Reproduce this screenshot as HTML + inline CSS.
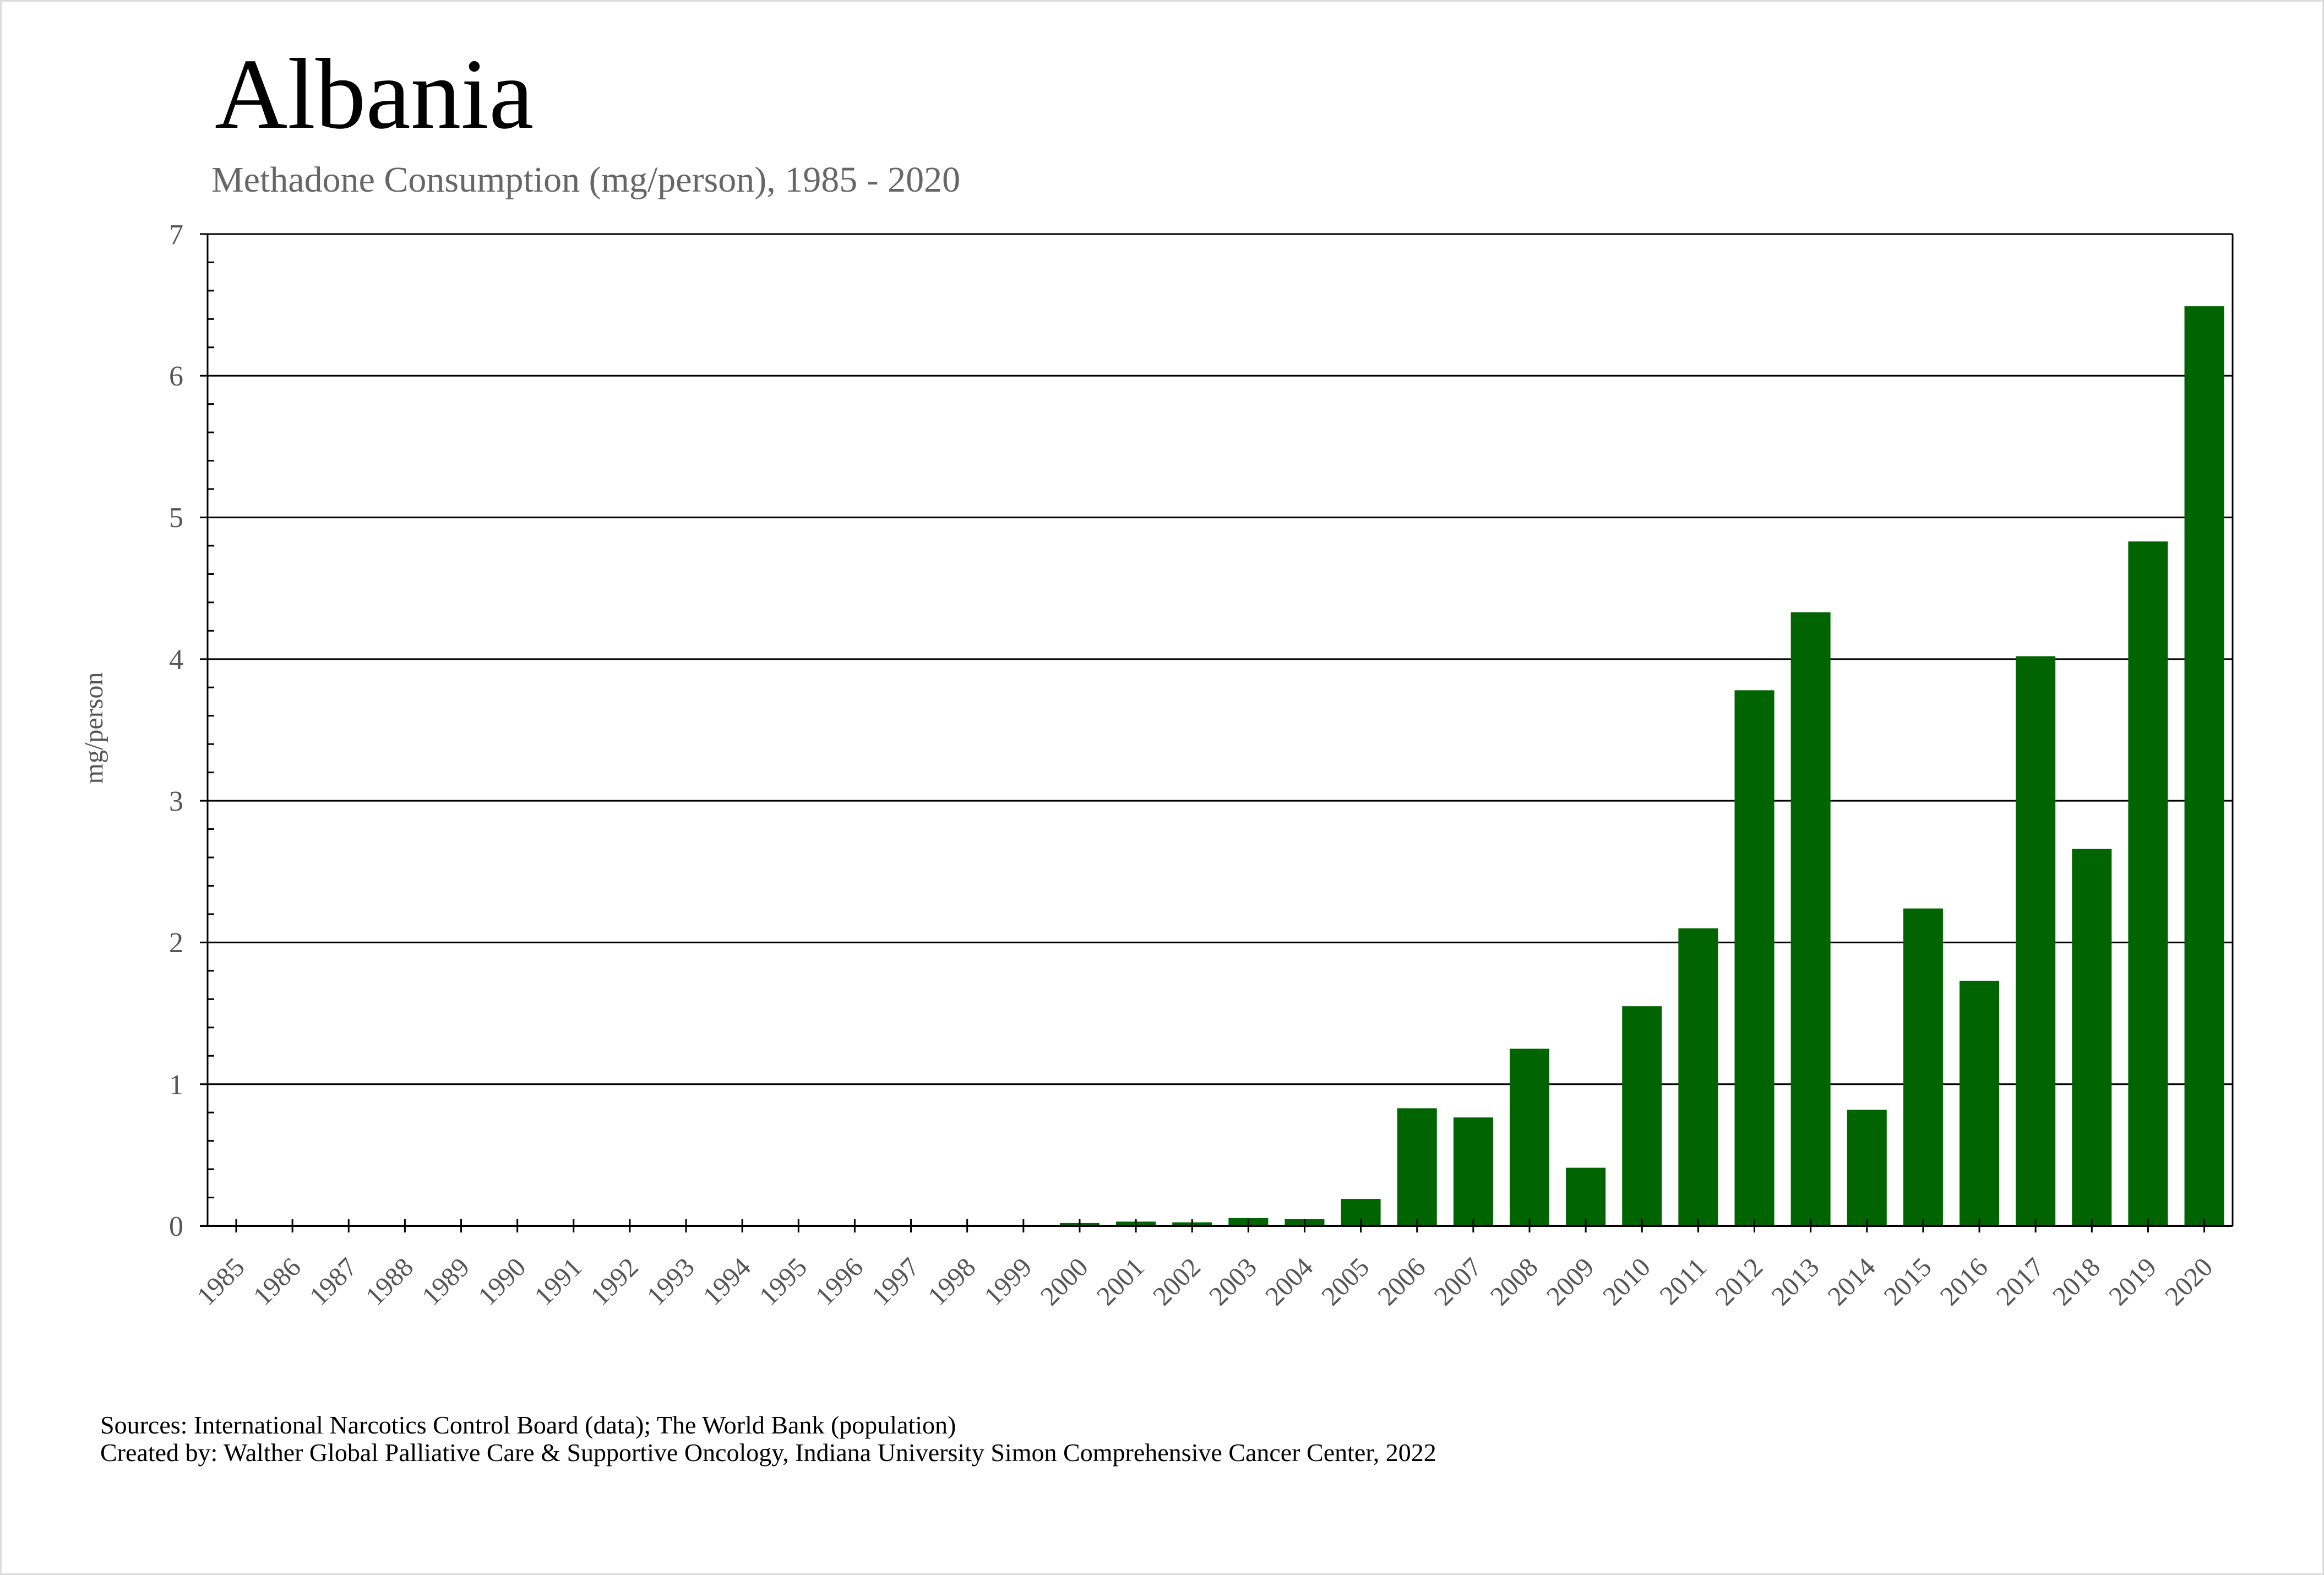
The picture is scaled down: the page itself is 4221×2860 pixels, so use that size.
<!DOCTYPE html>
<html><head><meta charset="utf-8"><style>
html,body{margin:0;padding:0;background:#fff;}
svg{display:block;}
</style></head><body>
<svg width="4221" height="2860" viewBox="0 0 4221 2860" xmlns="http://www.w3.org/2000/svg" font-family="Liberation Serif, serif">
<rect x="1.5" y="1.5" width="4218" height="2857" fill="#fff" stroke="#dcdcdc" stroke-width="3"/>
<text x="390" y="232" font-size="183" fill="#000">Albania</text>
<text x="384" y="348" font-size="66" fill="#666">Methadone Consumption (mg/person), 1985 - 2020</text>
<text transform="translate(186,1322) rotate(-90)" text-anchor="middle" font-size="48" fill="#555">mg/person</text>
<g id="grid" stroke="#000" stroke-width="3">
<line x1="363" y1="425" x2="4055" y2="425"/>
<line x1="363" y1="682.3" x2="4055" y2="682.3"/>
<line x1="363" y1="939.6" x2="4055" y2="939.6"/>
<line x1="363" y1="1196.9" x2="4055" y2="1196.9"/>
<line x1="363" y1="1454.1" x2="4055" y2="1454.1"/>
<line x1="363" y1="1711.4" x2="4055" y2="1711.4"/>
<line x1="363" y1="1968.7" x2="4055" y2="1968.7"/>
<line x1="377" y1="425" x2="377" y2="2226"/>
<line x1="4055" y1="425" x2="4055" y2="2226"/>
</g>
<g fill="#006400" id="bars"></g>
<g stroke="#000" stroke-width="3" id="ticks"></g>
<line x1="363" y1="2226" x2="4055" y2="2226" stroke="#000" stroke-width="4"/>
<g font-size="52" fill="#555" text-anchor="end" id="ylab">
<text x="333" y="443">7</text><text x="333" y="700">6</text><text x="333" y="957">5</text><text x="333" y="1215">4</text><text x="333" y="1472">3</text><text x="333" y="1729">2</text><text x="333" y="1987">1</text><text x="333" y="2244">0</text>
</g>
<g font-size="49" fill="#555" text-anchor="end" id="xlab"></g>
<text x="182" y="2603" font-size="46" fill="#000">Sources: International Narcotics Control Board (data); The World Bank (population)</text>
<text x="182" y="2653" font-size="46" fill="#000">Created by: Walther Global Palliative Care &amp; Supportive Oncology, Indiana University Simon Comprehensive Cancer Center, 2022</text>
<script>
var ns="http://www.w3.org/2000/svg";
var vals={2000:0.02,2001:0.03,2002:0.025,2003:0.055,2004:0.047,2005:0.19,2006:0.83,2007:0.765,2008:1.25,2009:0.41,2010:1.55,2011:2.1,2012:3.78,2013:4.33,2014:0.82,2015:2.24,2016:1.73,2017:4.02,2018:2.66,2019:4.83,2020:6.49};
var U=257.3,Y0=2226;
var bars=document.getElementById('bars'),ticks=document.getElementById('ticks'),xl=document.getElementById('xlab');
for(var i=0;i<36;i++){
 var yr=1985+i,cx=429+i*102.13;
 if(vals[yr]){var r=document.createElementNS(ns,'rect');var h=vals[yr]*U;
  r.setAttribute('x',cx-36);r.setAttribute('y',Y0-h);r.setAttribute('width',72);r.setAttribute('height',h);bars.appendChild(r);}
 var l=document.createElementNS(ns,'line');l.setAttribute('x1',cx);l.setAttribute('x2',cx);l.setAttribute('y1',Y0-12);l.setAttribute('y2',Y0+12);ticks.appendChild(l);
 var t=document.createElementNS(ns,'text');t.setAttribute('transform','translate('+(cx+18)+',2304) rotate(-45)');t.textContent=yr;xl.appendChild(t);
}
for(var v=0;v<35;v++){if(v%5==0)continue;var y=Y0-v*U/5;var l=document.createElementNS(ns,'line');l.setAttribute('x1',377);l.setAttribute('x2',389);l.setAttribute('y1',y);l.setAttribute('y2',y);ticks.appendChild(l);}
</script>
</svg>
</body></html>
